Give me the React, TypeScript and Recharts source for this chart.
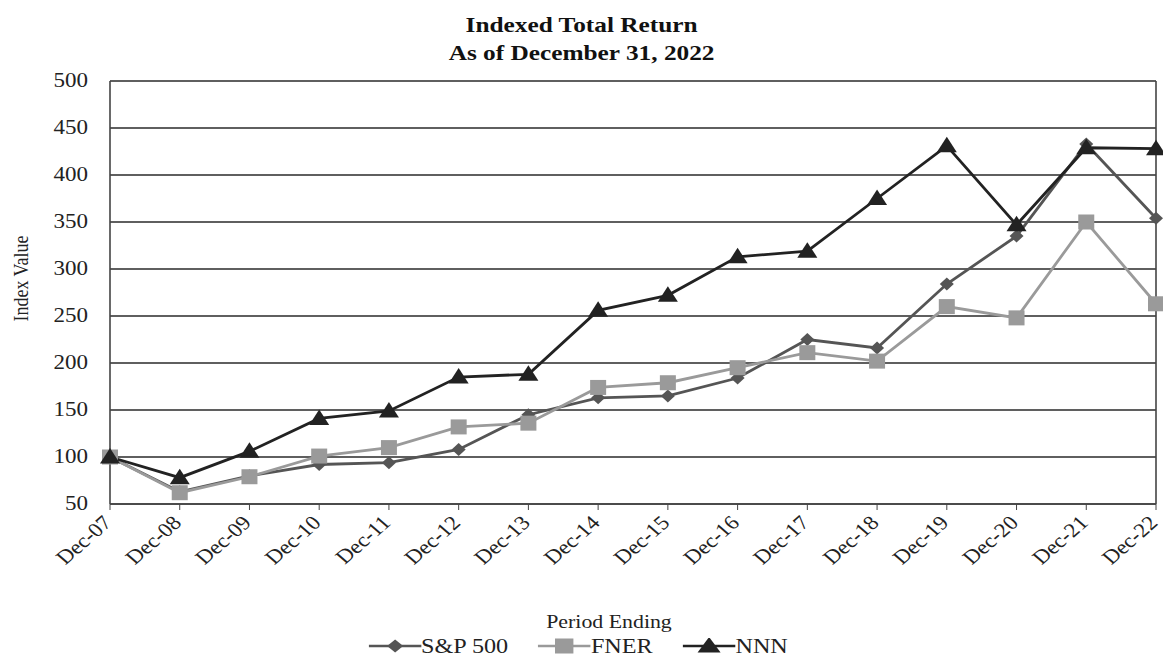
import React from 'react';
import { LineChart, Line, XAxis, YAxis, CartesianGrid, Legend, ReferenceLine } from 'recharts';

const categories = ['Dec-07', 'Dec-08', 'Dec-09', 'Dec-10', 'Dec-11', 'Dec-12', 'Dec-13', 'Dec-14', 'Dec-15', 'Dec-16', 'Dec-17', 'Dec-18', 'Dec-19', 'Dec-20', 'Dec-21', 'Dec-22'];
const sp500 = [100, 63, 80, 92, 94, 108, 145, 163, 165, 184, 225, 216, 284, 335, 433, 354];
const fner = [100, 62, 79, 101, 110, 132, 136, 174, 179, 195, 211, 202, 260, 248, 350, 263];
const nnn = [100, 78, 106, 141, 149, 185, 188, 256, 272, 313, 319, 375, 431, 347, 429, 428];
const yTicks = [50, 100, 150, 200, 250, 300, 350, 400, 450, 500];

const data = categories.map((c, i) => ({ period: c, sp: sp500[i], fner: fner[i], nnn: nnn[i] }));

const FONT = '"Liberation Serif", "Times New Roman", serif';
const SP_COLOR = '#555555';
const FNER_COLOR = '#9a9a9a';
const NNN_COLOR = '#222222';
// the source picture is a bit wider than tall, so text is stretched sideways
const STRETCH = 1.15;

const Diamond = ({ cx, cy, fill }: any) => {
  if (cx == null || cy == null) return null;
  return <polygon points={`${cx},${cy - 6.5} ${cx + 7},${cy} ${cx},${cy + 6.5} ${cx - 7},${cy}`} fill={fill} />;
};

const Square = ({ cx, cy, fill }: any) => {
  if (cx == null || cy == null) return null;
  return <rect x={cx - 8} y={cy - 7.5} width={16} height={15} fill={fill} />;
};

const Triangle = ({ cx, cy, fill }: any) => {
  if (cx == null || cy == null) return null;
  return <polygon points={`${cx},${cy - 9} ${cx + 10},${cy + 6.5} ${cx - 10},${cy + 6.5}`} fill={fill} />;
};

const XTick = ({ x, y, payload }: any) => (
  <g transform={`translate(${x + 3}, ${y + 12}) scale(${STRETCH}, 1) rotate(-45)`}>
    <text x={0} y={0} textAnchor="end" fontFamily={FONT} fontSize={20} fill="#222">
      {payload.value}
    </text>
  </g>
);

const YTick = ({ x, y, payload }: any) => (
  <g transform={`translate(${x}, ${y}) scale(${STRETCH}, 1)`}>
    <text x={0} y={0} textAnchor="end" dominantBaseline="central" fontFamily={FONT} fontSize={20} fill="#222">
      {payload.value}
    </text>
  </g>
);

const legendItems = [
  { name: 'S&P 500', color: SP_COLOR, shape: 'diamond' },
  { name: 'FNER', color: FNER_COLOR, shape: 'square' },
  { name: 'NNN', color: NNN_COLOR, shape: 'triangle' },
];

const LegendContent = () => (
  <div
    style={{
      display: 'flex',
      justifyContent: 'center',
      alignItems: 'center',
      paddingTop: 4,
      fontFamily: FONT,
      fontSize: 21,
      color: '#222',
      transform: `scaleX(${STRETCH})`,
      transformOrigin: '50% 50%',
    }}
  >
    {legendItems.map((it) => (
      <div key={it.name} style={{ display: 'flex', alignItems: 'center', margin: '0 13px' }}>
        <svg width={46} height={18}>
          <line x1={0} y1={8} x2={46} y2={8} stroke={it.color} strokeWidth={2.5} />
          {it.shape === 'diamond' && <Diamond cx={23} cy={8} fill={it.color} />}
          {it.shape === 'square' && <Square cx={23} cy={8} fill={it.color} />}
          {it.shape === 'triangle' && <Triangle cx={23} cy={8} fill={it.color} />}
        </svg>
        <span>{it.name}</span>
      </div>
    ))}
  </div>
);

const YLabel = ({ viewBox }: any) => {
  const x = viewBox.x + 21;
  const y = viewBox.y + viewBox.height / 2 - 14;
  return (
    <g transform={`translate(${x}, ${y}) scale(${STRETCH}, 1) rotate(-90)`}>
      <text x={0} y={0} textAnchor="middle" dominantBaseline="central" fontFamily={FONT} fontSize={18} fill="#222">
        Index Value
      </text>
    </g>
  );
};

const XLabel = ({ viewBox }: any) => {
  const x = viewBox.x + viewBox.width / 2 - 24;
  const y = viewBox.y + viewBox.height - 2;
  return (
    <g transform={`translate(${x}, ${y}) scale(${STRETCH}, 1)`}>
      <text x={0} y={0} textAnchor="middle" fontFamily={FONT} fontSize={19} fill="#222">
        Period Ending
      </text>
    </g>
  );
};

const App: React.FC = () => {
  return (
    <div style={{ position: 'absolute', left: 0, top: 0, width: 1163, height: 665, background: '#fff' }}>
      <div
        style={{
          position: 'absolute',
          left: 0,
          top: 11,
          width: 1163,
          textAlign: 'center',
          fontFamily: FONT,
          fontWeight: 'bold',
          fontSize: 22,
          lineHeight: '28px',
          color: '#111',
          transform: `scaleX(${STRETCH})`,
          transformOrigin: '581px 0',
        }}
      >
        <div>Indexed Total Return</div>
        <div>As of December 31, 2022</div>
      </div>
      <LineChart width={1163} height={665} data={data} margin={{ top: 81, right: 7, left: 0, bottom: 0 }}>
        <CartesianGrid vertical={false} stroke="#2a2a2a" strokeWidth={1.6} />
        <XAxis
          dataKey="period"
          height={126}
          tick={<XTick />}
          interval={0}
          axisLine={{ stroke: '#444', strokeWidth: 1.6 }}
          tickLine={{ stroke: '#444' }}
          tickSize={6}
          label={<XLabel />}
        />
        <YAxis
          width={110}
          domain={[50, 500]}
          ticks={yTicks}
          interval={0}
          tickSize={0}
          tickMargin={22}
          axisLine={{ stroke: '#444', strokeWidth: 1.6 }}
          tick={<YTick />}
          label={<YLabel />}
        />
        <ReferenceLine x="Dec-22" stroke="#444" strokeWidth={1.6} />
        <Legend verticalAlign="bottom" height={35} content={<LegendContent />} />
        <Line dataKey="sp" name="S&P 500" stroke={SP_COLOR} strokeWidth={2.8} dot={<Diamond fill={SP_COLOR} />} isAnimationActive={false} />
        <Line dataKey="fner" name="FNER" stroke={FNER_COLOR} strokeWidth={2.8} dot={<Square fill={FNER_COLOR} />} isAnimationActive={false} />
        <Line dataKey="nnn" name="NNN" stroke={NNN_COLOR} strokeWidth={2.8} dot={<Triangle fill={NNN_COLOR} />} isAnimationActive={false} />
      </LineChart>
    </div>
  );
};

export default App;
